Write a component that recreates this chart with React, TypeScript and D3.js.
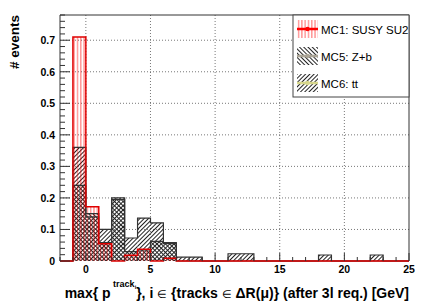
import React from "react";
import * as d3 from "d3";

// histogram bins: width 1, first bin starts at -2
const binStart = -2;
const binWidth = 1;

// MC1: SUSY SU2
const mc1Values = [0, 0.71, 0.172, 0.055, 0, 0.018, 0.037, 0, 0.009, 0, 0, 0, 0, 0, 0, 0, 0, 0, 0, 0, 0, 0, 0, 0, 0, 0, 0];
// MC5: Z+b
const mc5Values = [0, 0.24, 0.15, 0.058, 0.2, 0.03, 0.035, 0.062, 0.058, 0, 0, 0, 0, 0, 0, 0, 0, 0, 0, 0, 0, 0, 0, 0, 0, 0, 0];
// MC6: tt
const mc6Values = [0, 0.36, 0.14, 0.1, 0.195, 0.073, 0.136, 0.121, 0.055, 0.012, 0.012, 0, 0, 0.023, 0.023, 0, 0, 0, 0, 0, 0.019, 0, 0, 0, 0.019, 0, 0];

const legendLabels = ["MC1: SUSY SU2", "MC5: Z+b", "MC6: tt"];
const xTickValues = [0, 5, 10, 15, 20, 25];
const yTickValues = [0, 0.1, 0.2, 0.3, 0.4, 0.5, 0.6, 0.7];

const W = 431, H = 304;
const left = 60, right = 409, top = 15, bottom = 261;

const App = () => {
  const x = d3.scaleLinear().domain([-2, 25]).range([left, right]);
  const y = d3.scaleLinear().domain([0, 0.78]).range([bottom, top]);

  const bins = (vals: number[]) => vals.map((v, i) => ({ x0: binStart + i * binWidth, x1: binStart + (i + 1) * binWidth, v }));

  // outline as a step line over all bins
  const stepLine = d3.line<[number, number]>().x(d => x(d[0])).y(d => y(d[1])).curve(d3.curveStepAfter);
  const stepPath = (vals: number[]) => {
    const pts: [number, number][] = [[binStart, 0]];
    vals.forEach((v, i) => pts.push([binStart + i * binWidth, v]));
    pts.push([binStart + vals.length * binWidth, vals[vals.length - 1]]);
    pts.push([binStart + vals.length * binWidth, 0]);
    return stepLine(pts) || "";
  };

  const bars = (vals: number[], fill: string) =>
    bins(vals).filter(b => b.v > 0).map((b, i) => (
      <rect key={i} x={x(b.x0)} y={y(b.v)} width={x(b.x1) - x(b.x0)} height={y(0) - y(b.v)} fill={fill} />
    ));

  const yMinor = d3.range(0, 0.781, 0.02);
  const xMinor = d3.range(-2, 25.01, 1);

  const legendRows = [
    { fill: "url(#hatchRed)", line: "#ff0000" },
    { fill: "url(#hatchBack)", line: "#aaa496" },
    { fill: "url(#hatchFwd)", line: "#d6d68c" },
  ];

  return (
    <svg width={W} height={H} style={{ position: "absolute", left: 0, top: 0, fontFamily: "'Liberation Sans', Arial, sans-serif" }}>
      <defs>
        <pattern id="hatchRed" patternUnits="userSpaceOnUse" width={3.3} height={10}>
          <line x1={1.6} y1={0} x2={1.6} y2={10} stroke="#ff0000" strokeOpacity={0.6} strokeWidth={1} />
        </pattern>
        <pattern id="hatchBack" patternUnits="userSpaceOnUse" width={3} height={3} patternTransform="rotate(-45)">
          <line x1={1.5} y1={0} x2={1.5} y2={3} stroke="#222" strokeWidth={1} />
        </pattern>
        <pattern id="hatchFwd" patternUnits="userSpaceOnUse" width={3} height={3} patternTransform="rotate(45)">
          <line x1={1.5} y1={0} x2={1.5} y2={3} stroke="#222" strokeWidth={1} />
        </pattern>
        <clipPath id="plotClip">
          <rect x={left} y={top} width={right - left} height={bottom - top + 2} />
        </clipPath>
      </defs>
      <rect width={W} height={H} fill="#fff" />

      {/* grid */}
      {xTickValues.filter(t => t < 25).map(t => (
        <line key={"gx" + t} x1={x(t)} x2={x(t)} y1={top} y2={bottom} stroke="#555" strokeDasharray="1,2" strokeWidth={0.8} />
      ))}
      {yTickValues.filter(t => t > 0).map(t => (
        <line key={"gy" + t} x1={left} x2={right} y1={y(t)} y2={y(t)} stroke="#555" strokeDasharray="1,2" strokeWidth={0.8} />
      ))}

      <g clipPath="url(#plotClip)">
        {bars(mc6Values, "url(#hatchFwd)")}
        {bars(mc5Values, "url(#hatchBack)")}
        {bars(mc1Values, "url(#hatchRed)")}
        <path d={stepPath(mc6Values)} fill="none" stroke="#333" strokeWidth={1.2} />
        <path d={stepPath(mc5Values)} fill="none" stroke="#333" strokeWidth={1.2} />
        <path d={stepPath(mc1Values)} fill="none" stroke="#e00000" strokeWidth={1.5} />
      </g>

      {/* frame */}
      <line x1={left} x2={right} y1={top} y2={top} stroke="#333" />
      <line x1={left} x2={left} y1={top} y2={bottom} stroke="#333" />
      <line x1={right} x2={right} y1={top} y2={bottom} stroke="#333" />

      {/* y ticks */}
      {yMinor.map((t, i) => (
        <line key={"ym" + i} x1={left} x2={left + (i % 5 === 0 ? 10 : 5)} y1={y(t)} y2={y(t)} stroke="#333" />
      ))}
      {yTickValues.map(t => (
        <text key={"yl" + t} x={left - 5} y={y(t) + 4} textAnchor="end" fontSize={10.5} fontWeight="bold">
          {t === 0 ? "0" : d3.format(".1f")(t)}
        </text>
      ))}

      {/* x ticks */}
      {xMinor.map((t, i) => (
        <line key={"xm" + i} x1={x(t)} x2={x(t)} y1={bottom} y2={bottom - (t % 5 === 0 ? 8 : 4)} stroke="#333" />
      ))}
      {xTickValues.map(t => (
        <text key={"xl" + t} x={x(t)} y={bottom + 12} textAnchor="middle" fontSize={10.5} fontWeight="bold">{t}</text>
      ))}

      {/* axis titles */}
      <text transform={`translate(19, ${top}) rotate(-90)`} textAnchor="end" fontSize={13.5} fontWeight="bold"># events</text>
      <text x={right} y={298} textAnchor="end" fontSize={14} fontWeight="bold">
        max{"{"} p<tspan dy={-11} fontSize={9}> track</tspan><tspan dy={2} fontSize={5.5}>i</tspan>
        <tspan dy={9} fontSize={14}>{"}"}, i </tspan><tspan fontSize={10.5} fontWeight="normal">∈</tspan>
        <tspan> {"{"}tracks </tspan><tspan fontSize={10.5} fontWeight="normal">∈</tspan>
        <tspan> ΔR(μ){"}"} (after 3l req.) [GeV]</tspan>
      </text>

      {/* legend */}
      <rect x={293} y={top} width={right - 293} height={82} fill="#fff" stroke="#444" strokeWidth={1} />
      {legendRows.map((r, i) => {
        const cy = 29 + i * 27;
        return (
          <g key={"lg" + i}>
            <rect x={297} y={cy - 9} width={21} height={18} fill={r.fill} />
            <line x1={297} x2={318} y1={cy} y2={cy} stroke={r.line} strokeWidth={2.5} />
            <circle cx={307.5} cy={cy} r={2.2} fill={r.line} />
            <text x={321} y={cy + 4.5} fontSize={11.5}>{legendLabels[i]}</text>
          </g>
        );
      })}
    </svg>
  );
};

export default App;
